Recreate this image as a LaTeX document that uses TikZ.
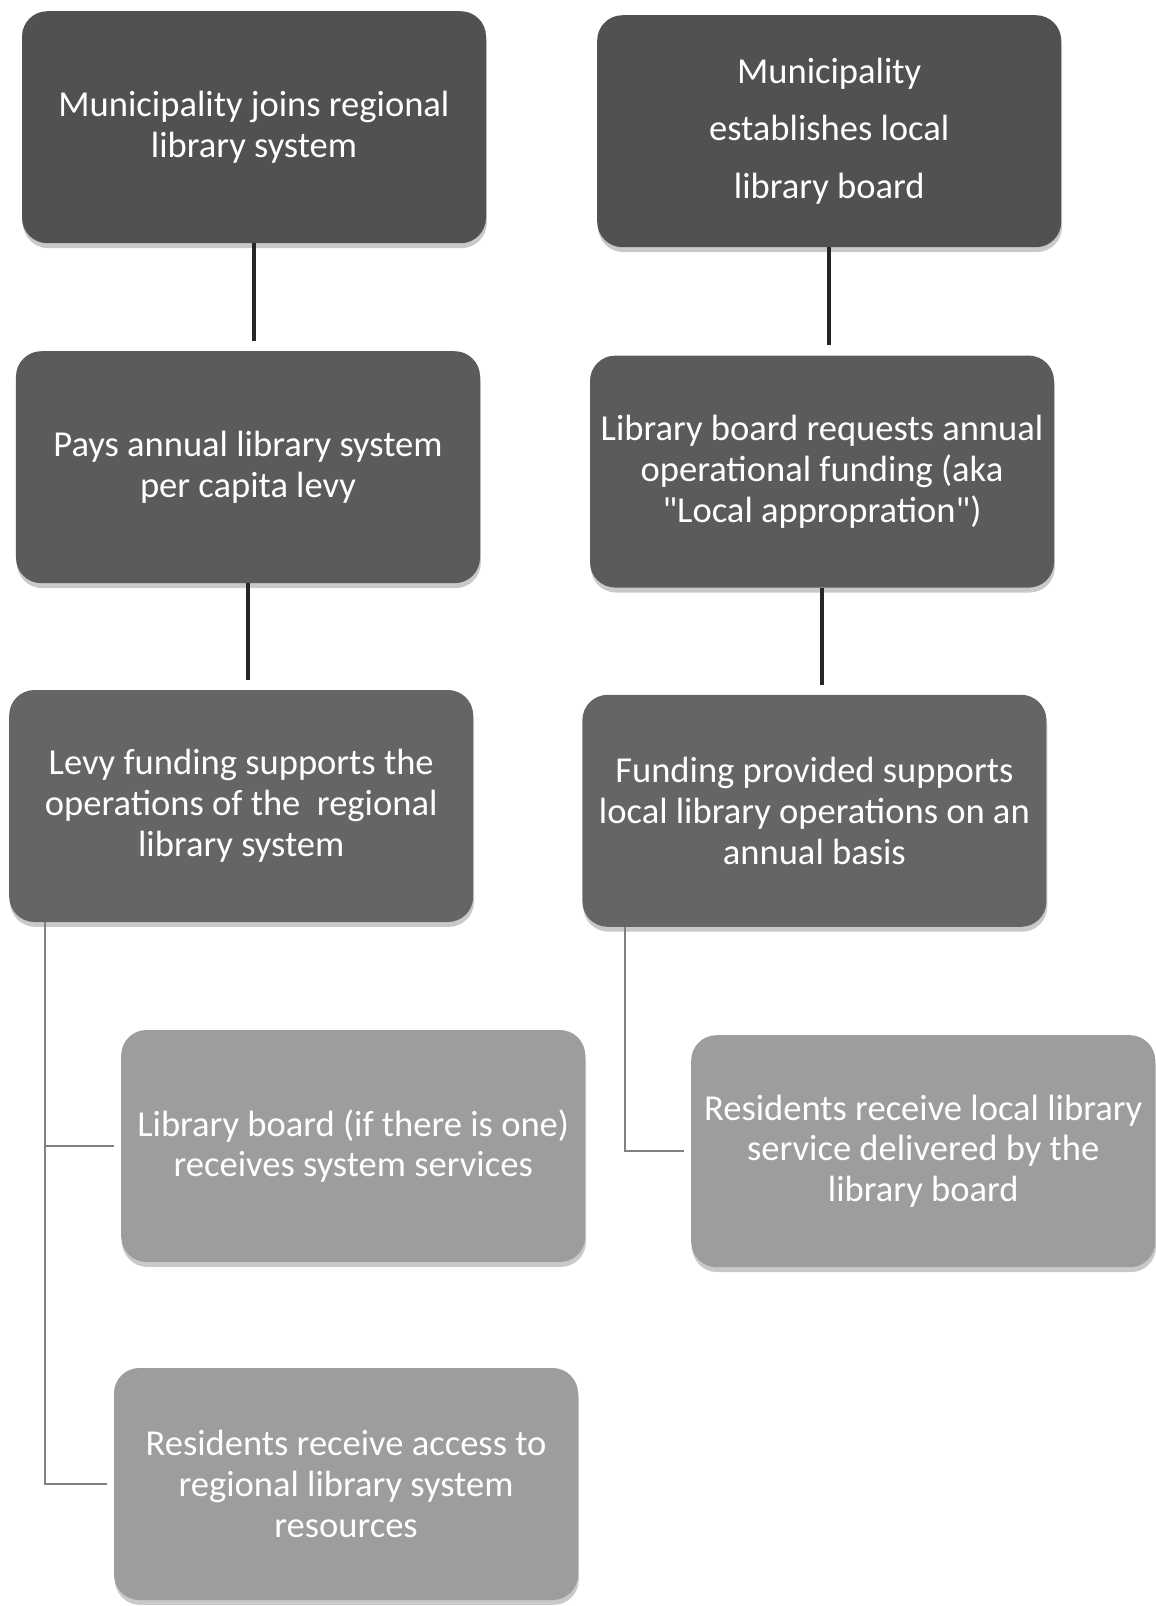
\documentclass[tikz,border=0pt]{standalone}
\usepackage{fontspec}
\setmainfont{Carlito}[Ligatures=TeXOff]
\usepackage{tikz}
\usetikzlibrary{calc,shadows}
\definecolor{boxdark}{HTML}{515151}
\definecolor{boxmid}{HTML}{5B5B5B}
\definecolor{boxrow}{HTML}{656565}
\definecolor{boxlight}{HTML}{9D9D9D}
\tikzset{
  flowbox/.style={rounded corners=18pt,minimum width=11.6cm,minimum height=5.8cm,
                  align=center,text=white,font=\fontsize{26}{29}\selectfont,
                  drop shadow={shadow xshift=0.6pt,shadow yshift=-3.5pt,
                               fill=black!30,opacity=0.7}},
  linkline/.style={line width=2.6pt,black!85,shorten >=0.25cm},
  treeline/.style={line width=1.7pt,black!50,shorten >=0.18cm}}

\begin{document}
\begin{tikzpicture}[x=1cm,y=1cm]
\useasboundingbox (0,0) rectangle (28.9,-40.15);

\node[flowbox,fill=boxdark] (L1) at (6.35,-3.18)
  {Municipality joins regional\\ library system};
\node[flowbox,fill=boxdark,font=\fontsize{26}{41}\selectfont] (R1) at (20.73,-3.28)
  {Municipality\\ establishes local\\ library board};
\node[flowbox,fill=boxmid] (L2) at (6.2,-11.68)
  {Pays annual library system\\ per capita levy};
\node[flowbox,fill=boxmid] (R2) at (20.55,-11.79)
  {Library board requests annual\\ operational funding (aka\\ "Local appropration")};
\node[flowbox,fill=boxrow] (L3) at (6.03,-20.15)
  {Levy funding supports the\\ operations of the~ regional\\ library system};
\node[flowbox,fill=boxrow] (R3) at (20.36,-20.27)
  {Funding provided supports\\ local library operations on an\\ annual basis};
\node[flowbox,fill=boxlight] (L4) at (8.83,-28.65)
  {Library board (if there is one)\\ receives system services};
\node[flowbox,fill=boxlight] (L5) at (8.65,-37.1)
  {Residents receive access to\\ regional library system\\ resources};
\node[flowbox,fill=boxlight] (R4) at (23.08,-28.78)
  {Residents receive local library\\ service delivered by the\\ library board};

\draw[linkline] (L1.south) -- (L1.south |- L2.north);
\draw[linkline] (R1.south) -- (R1.south |- R2.north);
\draw[linkline] (L2.south) -- (L2.south |- L3.north);
\draw[linkline] (R2.south) -- (R2.south |- R3.north);

\coordinate (ltrunk) at ($(L3.south west)+(0.9,0)$);
\coordinate (rtrunk) at ($(R3.south west)+(1.07,0)$);
\draw[treeline] (ltrunk) |- (L4.west);
\draw[treeline] (ltrunk) |- (L5.west);
\draw[treeline] (rtrunk) |- (R4.west);
\end{tikzpicture}
\end{document}
